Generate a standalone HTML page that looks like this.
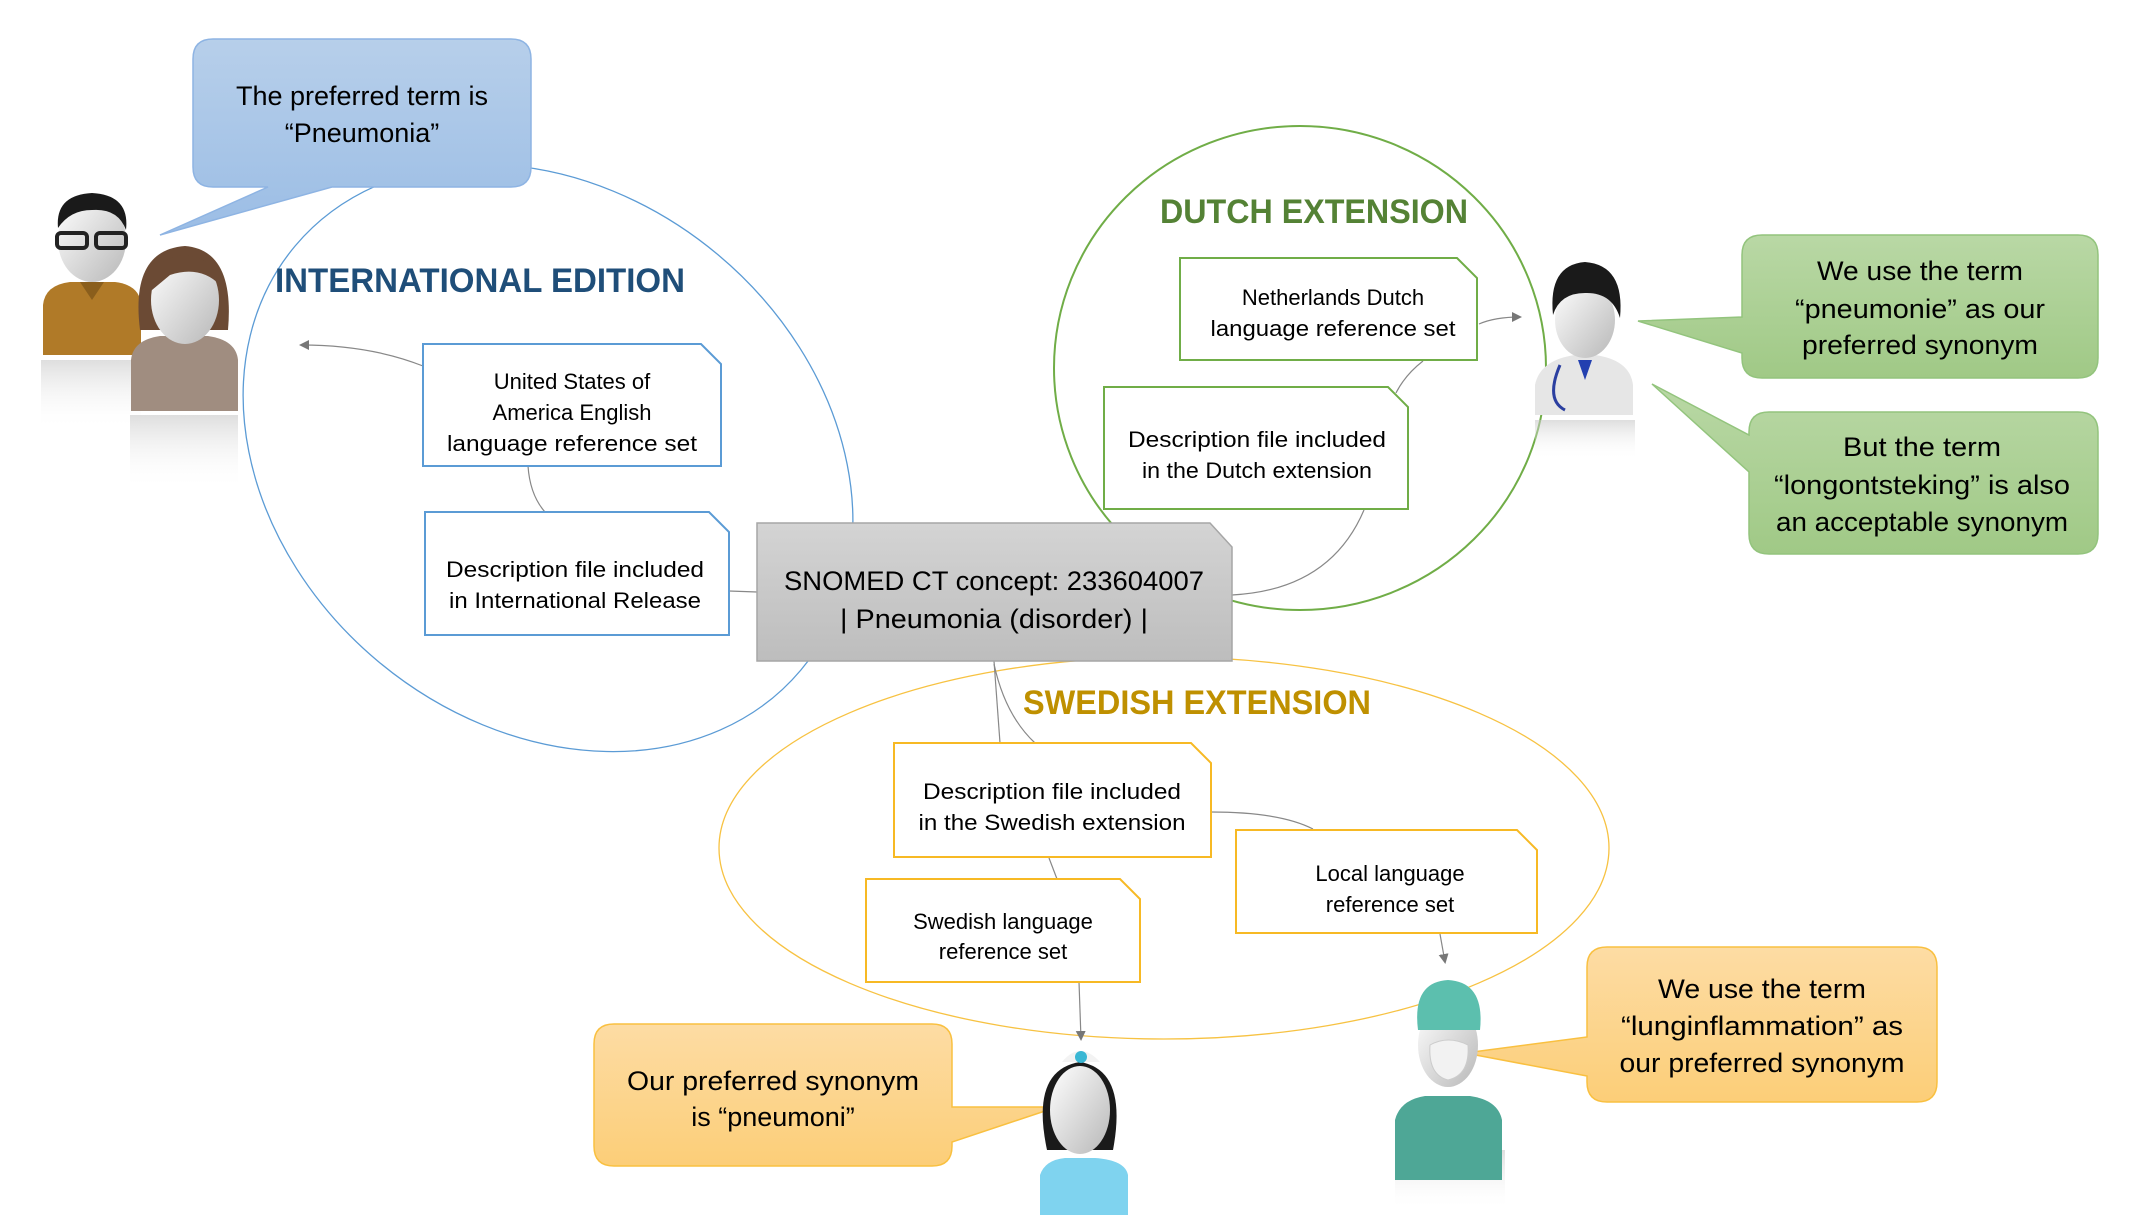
<!DOCTYPE html>
<html><head><meta charset="utf-8"><style>
html,body{margin:0;padding:0;background:#fff}
svg{display:block}
text{font-family:"Liberation Sans",sans-serif}
</style></head><body>
<svg width="2129" height="1226" viewBox="0 0 2129 1226" xmlns="http://www.w3.org/2000/svg">
<defs>
<linearGradient id="gb" x1="0" y1="0" x2="0" y2="1"><stop offset="0" stop-color="#b7cfea"/><stop offset="1" stop-color="#9bbde5"/></linearGradient>
<linearGradient id="gg" x1="0" y1="0" x2="0" y2="1"><stop offset="0" stop-color="#b9d8a5"/><stop offset="1" stop-color="#a0c986"/></linearGradient>
<linearGradient id="go" x1="0" y1="0" x2="0" y2="1"><stop offset="0" stop-color="#fddca4"/><stop offset="1" stop-color="#fcce78"/></linearGradient>
<linearGradient id="gs" x1="0" y1="0" x2="0" y2="1"><stop offset="0" stop-color="#d4d4d4"/><stop offset="1" stop-color="#bdbdbd"/></linearGradient>
<linearGradient id="head" x1="0" y1="0" x2="1" y2="1"><stop offset="0" stop-color="#ffffff"/><stop offset="1" stop-color="#b8b8b8"/></linearGradient>
<linearGradient id="refl" x1="0" y1="0" x2="0" y2="1"><stop offset="0" stop-color="#c8c8c8" stop-opacity=".6"/><stop offset="1" stop-color="#fff" stop-opacity="0"/></linearGradient>
<marker id="ar" markerWidth="10" markerHeight="10" refX="8" refY="5" orient="auto" markerUnits="userSpaceOnUse"><path d="M0,0 L10,5 L0,10 z" fill="#777"/></marker>
</defs>

<!-- ellipses -->
<ellipse cx="548" cy="458" rx="330" ry="265" transform="rotate(40 548 458)" fill="none" stroke="#5b9bd5" stroke-width="1.3"/>
<ellipse cx="1300" cy="368" rx="246" ry="242" fill="none" stroke="#70ad47" stroke-width="2"/>
<ellipse cx="1164" cy="848" rx="445" ry="191" fill="none" stroke="#f7c242" stroke-width="1.3"/>

<!-- connectors -->
<g fill="none" stroke="#888" stroke-width="1.2">
<path d="M423,366 Q370,345 301,345" marker-end="url(#ar)"/>
<path d="M528,466 Q530,495 545,512"/>
<path d="M729,591 L757,592"/>
<path d="M1479,324 Q1495,317 1520,317" marker-end="url(#ar)"/>
<path d="M1423,361 Q1405,375 1396,393"/>
<path d="M1364,510 Q1330,590 1232,595"/>
<path d="M994,661 L1000,743"/>
<path d="M994,664 Q1005,715 1035,743"/>
<path d="M1211,812 Q1280,812 1313,829"/>
<path d="M1049,858 L1057,879"/>
<path d="M1440,934 L1445,962" marker-end="url(#ar)"/>
<path d="M1079,982 L1081,1039" marker-end="url(#ar)"/>
</g>

<!-- boxes -->
<g fill="#fff" stroke-width="2">
<path d="M423,344 H701 L721,364 V466 H423 Z" stroke="#5b9bd5"/>
<path d="M425,512 H709 L729,532 V635 H425 Z" stroke="#5b9bd5"/>
<path d="M1180,258 H1457 L1477,278 V360 H1180 Z" stroke="#70ad47"/>
<path d="M1104,387 H1388 L1408,407 V509 H1104 Z" stroke="#70ad47"/>
<path d="M894,743 H1191 L1211,763 V857 H894 Z" stroke="#f7b924"/>
<path d="M1236,830 H1517 L1537,850 V933 H1236 Z" stroke="#f7b924"/>
<path d="M866,879 H1120 L1140,899 V982 H866 Z" stroke="#f7b924"/>
</g>
<path d="M757,523 H1210 L1232,547 V661 H757 Z" fill="url(#gs)" stroke="#a6a6a6" stroke-width="1.5"/>

<!-- box texts -->
<g font-size="22" fill="#000" text-anchor="middle">
<text x="572" y="389">United States of</text>
<text x="572" y="420">America English</text>
<text x="572" y="451" textLength="250" lengthAdjust="spacingAndGlyphs">language reference set</text>
<text x="575" y="577" textLength="258" lengthAdjust="spacingAndGlyphs">Description file included</text>
<text x="575" y="608" textLength="252" lengthAdjust="spacingAndGlyphs">in International Release</text>
<text x="1333" y="305">Netherlands Dutch</text>
<text x="1333" y="336" textLength="245" lengthAdjust="spacingAndGlyphs">language reference set</text>
<text x="1257" y="447" textLength="258" lengthAdjust="spacingAndGlyphs">Description file included</text>
<text x="1257" y="478" textLength="230" lengthAdjust="spacingAndGlyphs">in the Dutch extension</text>
<text x="1052" y="799" textLength="258" lengthAdjust="spacingAndGlyphs">Description file included</text>
<text x="1052" y="830" textLength="267" lengthAdjust="spacingAndGlyphs">in the Swedish extension</text>
<text x="1390" y="881">Local language</text>
<text x="1390" y="912">reference set</text>
<text x="1003" y="929">Swedish language</text>
<text x="1003" y="959">reference set</text>
</g>
<g font-size="27" text-anchor="middle">
<text x="994" y="590" textLength="420" lengthAdjust="spacingAndGlyphs">SNOMED CT concept: 233604007</text>
<text x="994" y="628" textLength="308" lengthAdjust="spacingAndGlyphs">| Pneumonia (disorder) |</text>
</g>

<!-- headings -->
<g font-weight="bold" font-size="34">
<text x="275" y="292" fill="#1f4e79" textLength="410" lengthAdjust="spacingAndGlyphs">INTERNATIONAL EDITION</text>
<text x="1160" y="223" fill="#548235" textLength="308" lengthAdjust="spacingAndGlyphs">DUTCH EXTENSION</text>
<text x="1023" y="714" fill="#bf9000" textLength="348" lengthAdjust="spacingAndGlyphs">SWEDISH EXTENSION</text>
</g>

<!-- callouts -->
<path d="M213,39 H511 Q531,39 531,59 V167 Q531,187 511,187 H332 L160,235 L268,187 H213 Q193,187 193,167 V59 Q193,39 213,39 Z" fill="url(#gb)" stroke="#8eb4e3" stroke-width="1.5"/>
<path d="M1762,235 H2078 Q2098,235 2098,255 V358 Q2098,378 2078,378 H1762 Q1742,378 1742,358 V353 L1638,321 L1742,317 V255 Q1742,235 1762,235 Z" fill="url(#gg)" stroke="#93c47d" stroke-width="1.5"/>
<path d="M1769,412 H2078 Q2098,412 2098,432 V534 Q2098,554 2078,554 H1769 Q1749,554 1749,534 V472 L1652,384 L1749,435 V432 Q1749,412 1769,412 Z" fill="url(#gg)" stroke="#93c47d" stroke-width="1.5"/>
<path d="M614,1024 H932 Q952,1024 952,1044 V1107 L1057,1107 L952,1142 V1146 Q952,1166 932,1166 H614 Q594,1166 594,1146 V1044 Q594,1024 614,1024 Z" fill="url(#go)" stroke="#f9c040" stroke-width="1.5"/>
<path d="M1607,947 H1917 Q1937,947 1937,967 V1082 Q1937,1102 1917,1102 H1607 Q1587,1102 1587,1082 V1076 L1465,1053 L1587,1037 V967 Q1587,947 1607,947 Z" fill="url(#go)" stroke="#f9c040" stroke-width="1.5"/>

<g font-size="27" text-anchor="middle" fill="#000">
<text x="362" y="105">The preferred term is</text>
<text x="362" y="142">“Pneumonia”</text>
<text x="1920" y="280" textLength="206" lengthAdjust="spacingAndGlyphs">We use the term</text>
<text x="1920" y="318" textLength="250" lengthAdjust="spacingAndGlyphs">“pneumonie” as our</text>
<text x="1920" y="354" textLength="236" lengthAdjust="spacingAndGlyphs">preferred synonym</text>
<text x="1922" y="456" textLength="158" lengthAdjust="spacingAndGlyphs">But the term</text>
<text x="1922" y="494" textLength="296" lengthAdjust="spacingAndGlyphs">“longontsteking” is also</text>
<text x="1922" y="531" textLength="292" lengthAdjust="spacingAndGlyphs">an acceptable synonym</text>
<text x="773" y="1090" textLength="292" lengthAdjust="spacingAndGlyphs">Our preferred synonym</text>
<text x="773" y="1126">is “pneumoni”</text>
<text x="1762" y="998" textLength="208" lengthAdjust="spacingAndGlyphs">We use the term</text>
<text x="1762" y="1035" textLength="282" lengthAdjust="spacingAndGlyphs">“lunginflammation” as</text>
<text x="1762" y="1072" textLength="285" lengthAdjust="spacingAndGlyphs">our preferred synonym</text>
</g>

<!-- people: man & woman -->
<g>
<rect x="41" y="360" width="100" height="70" fill="url(#refl)"/>
<path d="M43,355 V305 Q45,285 70,282 H115 Q140,285 141,305 V355 Z" fill="#b07a28"/>
<path d="M80,282 L92,300 L104,282 Z" fill="#8a5e1c"/>
<ellipse cx="92" cy="240" rx="34" ry="42" fill="url(#head)"/>
<path d="M58,228 Q55,195 92,193 Q130,195 126,230 Q118,208 92,210 Q70,210 58,228 Z" fill="#1a1a1a"/>
<rect x="57" y="233" width="30" height="15" rx="4" fill="none" stroke="#222" stroke-width="4"/>
<rect x="96" y="233" width="30" height="15" rx="4" fill="none" stroke="#222" stroke-width="4"/>
<rect x="130" y="415" width="108" height="75" fill="url(#refl)"/>
<path d="M131,411 V360 Q133,340 160,336 H208 Q236,340 238,360 V411 Z" fill="#a08d80"/>
<path d="M140,330 Q130,250 185,246 Q235,250 228,330 Z" fill="#6b4a34"/>
<ellipse cx="185" cy="300" rx="34" ry="44" fill="url(#head)"/>
<path d="M152,290 Q150,258 185,255 Q215,258 220,285 Q200,265 170,275 Z" fill="#6b4a34"/>
</g>
<!-- doctor -->
<g>
<rect x="1535" y="420" width="100" height="40" fill="url(#refl)"/>
<path d="M1535,415 V385 Q1540,360 1575,355 H1595 Q1630,360 1633,385 V415 Z" fill="#e6e6e6"/>
<ellipse cx="1585" cy="320" rx="30" ry="38" fill="url(#head)"/>
<path d="M1553,315 Q1548,265 1585,262 Q1625,265 1620,318 Q1612,292 1585,293 Q1560,293 1553,315 Z" fill="#1a1a1a"/>
<path d="M1560,365 Q1545,400 1565,410" fill="none" stroke="#2b3fa0" stroke-width="3"/>
<path d="M1578,360 L1585,380 L1592,360 Z" fill="#2340b0"/>
</g>
<!-- nurse -->
<g>
<path d="M1040,1215 V1175 Q1045,1160 1065,1158 H1095 Q1125,1160 1128,1175 V1215 Z" fill="#7fd3ef"/>
<path d="M1047,1150 Q1030,1070 1080,1062 Q1128,1070 1113,1150 Z" fill="#1a1a1a"/>
<ellipse cx="1080" cy="1110" rx="30" ry="44" fill="url(#head)"/>
<path d="M1062,1062 Q1080,1040 1100,1062 Z" fill="#f3f3f3"/>
<circle cx="1081" cy="1057" r="6" fill="#3ab7d4"/>
</g>
<!-- surgeon -->
<g>
<rect x="1395" y="1150" width="110" height="60" fill="url(#refl)"/>
<path d="M1395,1180 V1120 Q1400,1100 1425,1096 H1470 Q1498,1100 1502,1120 V1180 Z" fill="#4ea796"/>
<ellipse cx="1448" cy="1045" rx="30" ry="42" fill="url(#head)"/>
<path d="M1418,1030 Q1412,982 1448,980 Q1485,982 1480,1030 Z" fill="#5cbfae"/>
<path d="M1430,1045 Q1448,1035 1468,1045 Q1470,1075 1448,1080 Q1428,1075 1430,1045 Z" fill="#f2f2f2" stroke="#ccc"/>
</g>
</svg>
</body></html>
